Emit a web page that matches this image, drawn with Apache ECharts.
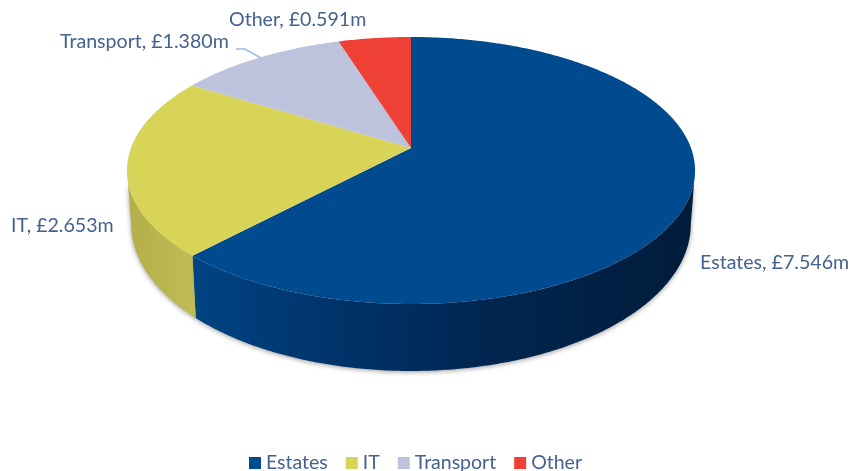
<!DOCTYPE html>
<html><head><meta charset="utf-8">
<style>html,body{margin:0;padding:0;background:#fff}#c{width:851px;height:471px}</style>
<script src="https://cdn.jsdelivr.net/npm/echarts@6/dist/echarts.min.js"></script>
</head><body><div id="c"></div>
<script>
const categories = ['Estates', 'IT', 'Transport', 'Other'];
const values = [7.546, 2.653, 1.380, 0.591];
const colors = ['#004A8F', '#D8D458', '#BEC3DD', '#EE4035'];

const total = values.reduce((a, b) => a + b, 0);
const view = { cx: 411, cy: 148, a: 129.7, b: 280, p: 0.1685, sx: 0.985, sy: 1.1, dy: 51.4 };
const tangent = Math.acos(-view.p);
const textColor = '#44618F';
const font = 'Lato, "Open Sans", sans-serif';
const labelAt = {
  Estates: [700, 263], IT: [11, 226], Transport: [60, 42], Other: [229, 20]
};
const sideFill = {
  Estates: [[0, '#004384'], [0.3, '#003268'], [0.62, '#00254E'], [1, '#001C3A']],
  IT: [[0, '#BFBC55'], [1, '#B4AF48']]
};

function project(t, bottom) {
  const u = Math.sin(t), v = Math.cos(t), d = 1 + view.p * v;
  const x = view.b * u / d, y = -view.a * v / d;
  return bottom
    ? [view.cx + x * view.sx, view.cy + view.dy + y * view.sy]
    : [view.cx + x, view.cy + y];
}
function arc(t0, t1, bottom) {
  const n = Math.max(2, Math.ceil(Math.abs(t1 - t0) / 0.01)), pts = [];
  for (let i = 0; i <= n; i++) pts.push(project(t0 + (t1 - t0) * i / n, bottom));
  return pts;
}
function startOf(i) {
  return values.slice(0, i).reduce((a, b) => a + b, 0) / total * Math.PI * 2;
}

const series = categories.map((name, i) => ({
  type: 'custom',
  name,
  coordinateSystem: 'none',
  silent: true,
  animation: false,
  itemStyle: { color: colors[i] },
  data: [[values[i]]],
  renderItem(params, api) {
    const t0 = startOf(i), t1 = t0 + api.value(0) / total * Math.PI * 2;
    const children = [];
    const s0 = Math.max(t0, tangent), s1 = Math.min(t1, Math.PI * 2 - tangent);
    if (s1 > s0) {
      children.push({
        type: 'polygon', z2: 1,
        shape: { points: arc(s0, s1, false).concat(arc(s1, s0, true)) },
        style: {
          fill: new echarts.graphic.LinearGradient(195, 0, i === 0 ? 695 : 127, 0,
            sideFill[name].map(s => ({ offset: s[0], color: s[1] })), true),
          shadowBlur: 5, shadowColor: 'rgba(70,70,70,0.55)', shadowOffsetX: 0, shadowOffsetY: 1
        }
      });
    }
    children.push({
      type: 'polygon', z2: 2,
      shape: { points: [[view.cx, view.cy]].concat(arc(t0, t1, false)) },
      style: { fill: colors[i] }
    });
    children.push({
      type: 'text', z2: 3,
      x: labelAt[name][0], y: labelAt[name][1],
      style: {
        text: name + ', £' + api.value(0).toFixed(3) + 'm',
        fill: textColor, font: '19.6px ' + font, align: 'left', verticalAlign: 'middle'
      }
    });
    if (name === 'Transport') {
      children.push({
        type: 'polyline', z2: 3,
        shape: { points: [[236, 49], [245, 49], [261, 58]] },
        style: { fill: null, stroke: '#9CBFE6', lineWidth: 1.6 }
      });
    }
    return { type: 'group', children };
  }
}));

const chart = echarts.init(document.getElementById('c'), null, { renderer: 'canvas' });
chart.setOption({
  animation: false,
  backgroundColor: '#fff',
  legend: {
    data: categories,
    left: 244, top: 448,
    icon: 'rect', itemWidth: 12, itemHeight: 12, itemGap: 18,
    textStyle: { color: textColor, fontFamily: font, fontSize: 19.5, padding: 0 }
  },
  series
});
</script></body></html>
